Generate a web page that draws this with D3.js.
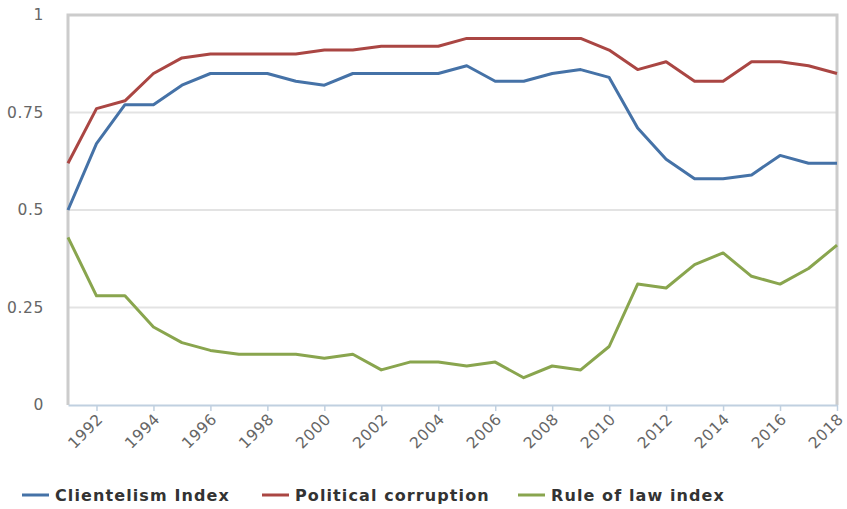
<!DOCTYPE html>
<html><head><meta charset="utf-8">
<script src="https://cdn.jsdelivr.net/npm/d3@7"></script>
<style>body{margin:0;background:#fff}svg{display:block}</style>
</head><body>
<svg id="c" width="847" height="509"></svg>
<script>
const years = d3.range(1991, 2019);
const clientelism = [0.50,0.67,0.77,0.77,0.82,0.85,0.85,0.85,0.83,0.82,0.85,0.85,0.85,0.85,0.87,0.83,0.83,0.85,0.86,0.84,0.71,0.63,0.58,0.58,0.59,0.64,0.62,0.62];
const corruption = [0.62,0.76,0.78,0.85,0.89,0.90,0.90,0.90,0.90,0.91,0.91,0.92,0.92,0.92,0.94,0.94,0.94,0.94,0.94,0.91,0.86,0.88,0.83,0.83,0.88,0.88,0.87,0.85];
const ruleOfLaw = [0.43,0.28,0.28,0.20,0.16,0.14,0.13,0.13,0.13,0.12,0.13,0.09,0.11,0.11,0.10,0.11,0.07,0.10,0.09,0.15,0.31,0.30,0.36,0.39,0.33,0.31,0.35,0.41];
const yTicks = [0, 0.25, 0.5, 0.75, 1];
const yTickLabels = ["0", "0.25", "0.5", "0.75", "1"];
const xTicks = d3.range(1992, 2019, 2);
const seriesNames = ["Clientelism Index", "Political corruption", "Rule of law index"];
const colors = ["#4572A7", "#AA4643", "#89A54E"];
const seriesData = [clientelism, corruption, ruleOfLaw];

const svg = d3.select("#c");
const L = 68, R = 837, T = 15, B = 405;
const x = d3.scaleLinear().domain([1991, 2018]).range([L, R]);
const y = d3.scaleLinear().domain([0, 1]).range([B, T]);

// grid
svg.append("g").selectAll("line").data(yTicks.slice(1, 4)).join("line")
  .attr("x1", L).attr("x2", R).attr("y1", d => y(d)).attr("y2", d => y(d))
  .attr("stroke", "#e3e3e3").attr("stroke-width", 2);

// frame
svg.append("path").attr("d", `M${L},${B}V${T}H${R}V${B}`)
  .attr("fill", "none").attr("stroke", "#cccccc").attr("stroke-width", 3);

// y labels
const ya = d3.axisLeft(y).tickValues(yTicks).tickFormat((d, i) => yTickLabels[i]).tickSize(0).tickPadding(24);
const gy = svg.append("g").attr("transform", `translate(${L},0)`).call(ya);
gy.select(".domain").remove();
gy.selectAll("text").attr("font-family", "DejaVu Sans, Verdana, sans-serif").attr("font-size", 15.5)
  .attr("letter-spacing", 0.6).attr("fill", "#666");

// x axis
const xa = d3.axisBottom(x).tickValues(xTicks).tickFormat(d3.format("d")).tickSize(6).tickSizeOuter(0);
const gx = svg.append("g").attr("transform", `translate(0,${B})`).call(xa);
gx.select(".domain").attr("stroke", "#C0D0E0").attr("stroke-width", 2);
gx.selectAll(".tick line").attr("stroke", "#C0D0E0").attr("stroke-width", 1.5);
gx.selectAll("text").attr("font-family", "DejaVu Sans, Verdana, sans-serif").attr("font-size", 15.5)
  .attr("letter-spacing", 0.6).attr("fill", "#666")
  .attr("text-anchor", "end").attr("dy", null).attr("y", 0)
  .attr("transform", "translate(7,15) rotate(-45)");

// lines
const line = d3.line().x((d, i) => x(years[i])).y(d => y(d));
seriesData.forEach((s, k) => {
  svg.append("path").datum(s).attr("d", line).attr("fill", "none")
    .attr("stroke", colors[k]).attr("stroke-width", 3).attr("stroke-linejoin", "round");
});

// legend
const legX = [22, 262, 518];
const lg = svg.append("g");
seriesNames.forEach((n, k) => {
  lg.append("line").attr("x1", legX[k]).attr("x2", legX[k] + 27).attr("y1", 495).attr("y2", 495)
    .attr("stroke", colors[k]).attr("stroke-width", 3);
  lg.append("text").attr("x", legX[k] + 33).attr("y", 501).text(n)
    .attr("font-family", "DejaVu Sans, Verdana, sans-serif").attr("font-weight", "bold")
    .attr("font-size", 16).attr("letter-spacing", 1.1).attr("fill", "#333");
});
</script>
</body></html>
